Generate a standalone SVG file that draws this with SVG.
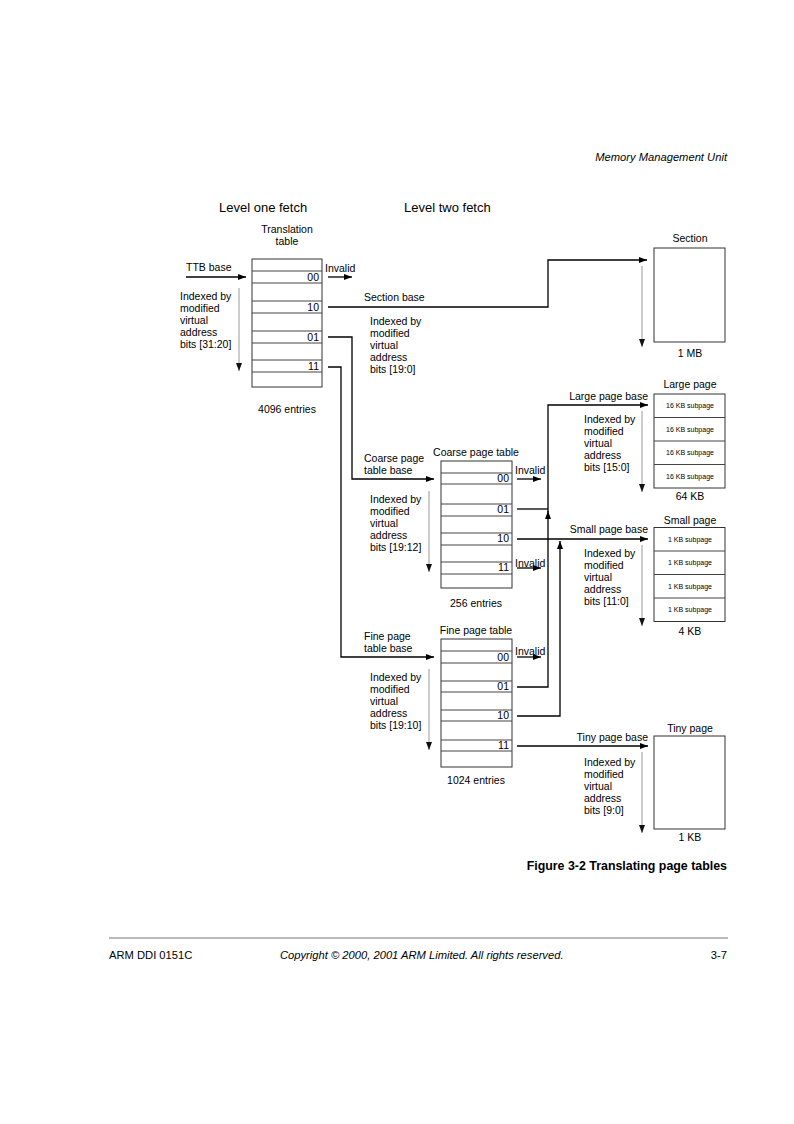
<svg xmlns="http://www.w3.org/2000/svg" width="794" height="1124" viewBox="0 0 794 1124">
<defs>
<marker id="ah" viewBox="0 0 8 6" refX="8" refY="3" markerWidth="8" markerHeight="6" markerUnits="userSpaceOnUse" orient="auto"><path d="M0,0 L8,3 L0,6 Z" fill="#000"/></marker>
<marker id="ahg" viewBox="0 0 8 6" refX="8" refY="3" markerWidth="8" markerHeight="6" markerUnits="userSpaceOnUse" orient="auto"><path d="M0,0 L8,3 L0,6 Z" fill="#111"/></marker>
</defs>
<style>
text{font-family:"Liberation Sans",Arial,sans-serif;fill:#000}
.t{font-size:10.5px}
.f{font-size:11.2px}
.h{font-size:13px}
.s{font-size:7px}
.c{text-anchor:middle}
.r{text-anchor:end}
.i{font-style:italic}
.box{fill:#fff;stroke:#333;stroke-width:1}
.row{fill:none;stroke:#444;stroke-width:1}
.ln{fill:none;stroke:#000;stroke-width:1.3}
.g{fill:none;stroke:#999;stroke-width:1}
</style>
<rect width="794" height="1124" fill="#fff"/>
<text class="f i r" x="727" y="161">Memory Management Unit</text>
<text class="h" x="219" y="212">Level one fetch</text>
<text class="h" x="404" y="212">Level two fetch</text>

<g id="translation-table">
<text class="t c" x="287" y="233">Translation</text>
<text class="t c" x="287" y="245">table</text>
<rect class="box" x="252" y="259" width="70" height="128"/>
<path class="row" d="M252,271H322M252,283H322M252,301H322M252,313H322M252,331H322M252,343H322M252,360H322M252,372H322"/>
<text class="t r" x="319" y="281">00</text>
<text class="t r" x="319" y="311">10</text>
<text class="t r" x="319" y="341">01</text>
<text class="t r" x="319" y="370">11</text>
<text class="t c" x="287" y="413">4096 entries</text>
<text class="t" x="186" y="271">TTB base</text>
<text class="t" x="180" y="300">Indexed by</text>
<text class="t" x="180" y="312">modified</text>
<text class="t" x="180" y="324">virtual</text>
<text class="t" x="180" y="336">address</text>
<text class="t" x="180" y="348">bits [31:20]</text>
<text class="t" x="325" y="272">Invalid</text>
</g>

<g id="section">
<text class="t c" x="690" y="242">Section</text>
<rect class="box" x="654" y="248" width="71" height="94"/>
<text class="t c" x="690" y="357">1 MB</text>
<text class="t" x="364" y="301">Section base</text>
<text class="t" x="370" y="325">Indexed by</text>
<text class="t" x="370" y="337">modified</text>
<text class="t" x="370" y="349">virtual</text>
<text class="t" x="370" y="361">address</text>
<text class="t" x="370" y="373">bits [19:0]</text>
</g>

<g id="coarse-page-table">
<text class="t c" x="476" y="456">Coarse page table</text>
<rect class="box" x="441" y="461" width="71" height="127"/>
<path class="row" d="M441,473H512M441,484H512M441,504H512M441,516H512M441,533H512M441,545H512M441,562H512M441,574H512"/>
<text class="t r" x="509" y="482">00</text>
<text class="t r" x="509" y="513">01</text>
<text class="t r" x="509" y="542">10</text>
<text class="t r" x="509" y="571">11</text>
<text class="t c" x="476" y="607">256 entries</text>
<text class="t" x="364" y="462">Coarse page</text>
<text class="t" x="364" y="474">table base</text>
<text class="t" x="370" y="503">Indexed by</text>
<text class="t" x="370" y="515">modified</text>
<text class="t" x="370" y="527">virtual</text>
<text class="t" x="370" y="539">address</text>
<text class="t" x="370" y="551">bits [19:12]</text>
<text class="t" x="515" y="474">Invalid</text>
<text class="t" x="515" y="567">Invalid</text>
</g>

<g id="fine-page-table">
<text class="t c" x="476" y="634">Fine page table</text>
<rect class="box" x="441" y="639" width="71" height="128"/>
<path class="row" d="M441,651H512M441,663H512M441,681H512M441,692H512M441,710H512M441,721H512M441,740H512M441,751H512"/>
<text class="t r" x="509" y="661">00</text>
<text class="t r" x="509" y="690">01</text>
<text class="t r" x="509" y="719">10</text>
<text class="t r" x="509" y="749">11</text>
<text class="t c" x="476" y="784">1024 entries</text>
<text class="t" x="364" y="640">Fine page</text>
<text class="t" x="364" y="652">table base</text>
<text class="t" x="370" y="681">Indexed by</text>
<text class="t" x="370" y="693">modified</text>
<text class="t" x="370" y="705">virtual</text>
<text class="t" x="370" y="717">address</text>
<text class="t" x="370" y="729">bits [19:10]</text>
<text class="t" x="515" y="655">Invalid</text>
</g>

<g id="large-page">
<text class="t c" x="690" y="388">Large page</text>
<rect class="box" x="654" y="394" width="71" height="94"/>
<path class="row" d="M654,417.5H725M654,441H725M654,464.5H725"/>
<text class="s c" x="690" y="408">16 KB subpage</text>
<text class="s c" x="690" y="431.5">16 KB subpage</text>
<text class="s c" x="690" y="455">16 KB subpage</text>
<text class="s c" x="690" y="478.5">16 KB subpage</text>
<text class="t c" x="690" y="500">64 KB</text>
<text class="t r" x="648" y="400">Large page base</text>
<text class="t" x="584" y="423">Indexed by</text>
<text class="t" x="584" y="435">modified</text>
<text class="t" x="584" y="447">virtual</text>
<text class="t" x="584" y="459">address</text>
<text class="t" x="584" y="471">bits [15:0]</text>
</g>

<g id="small-page">
<text class="t c" x="690" y="524">Small page</text>
<rect class="box" x="654" y="527.5" width="71" height="94"/>
<path class="row" d="M654,551H725M654,574.5H725M654,598H725"/>
<text class="s c" x="690" y="541.5">1 KB subpage</text>
<text class="s c" x="690" y="565">1 KB subpage</text>
<text class="s c" x="690" y="588.5">1 KB subpage</text>
<text class="s c" x="690" y="612">1 KB subpage</text>
<text class="t c" x="690" y="635">4 KB</text>
<text class="t r" x="648" y="533">Small page base</text>
<text class="t" x="584" y="557">Indexed by</text>
<text class="t" x="584" y="569">modified</text>
<text class="t" x="584" y="581">virtual</text>
<text class="t" x="584" y="593">address</text>
<text class="t" x="584" y="605">bits [11:0]</text>
</g>

<g id="tiny-page">
<text class="t c" x="690" y="732">Tiny page</text>
<rect class="box" x="654" y="736" width="71" height="93"/>
<text class="t c" x="690" y="841">1 KB</text>
<text class="t r" x="648" y="741">Tiny page base</text>
<text class="t" x="584" y="766">Indexed by</text>
<text class="t" x="584" y="778">modified</text>
<text class="t" x="584" y="790">virtual</text>
<text class="t" x="584" y="802">address</text>
<text class="t" x="584" y="814">bits [9:0]</text>
</g>

<g id="connectors">
<path class="ln" d="M186,277H246" marker-end="url(#ah)"/>
<path class="ln" d="M328,277H352" marker-end="url(#ah)"/>
<path class="ln" d="M328,307H548V260H647" marker-end="url(#ah)"/>
<path class="ln" d="M328,337H352V479H434" marker-end="url(#ah)"/>
<path class="ln" d="M328,367H341V657H434" marker-end="url(#ah)"/>
<path class="ln" d="M517,479H541" marker-end="url(#ah)"/>
<path class="ln" d="M517,568H541" marker-end="url(#ah)"/>
<path class="ln" d="M517,657H541" marker-end="url(#ah)"/>
<path class="ln" d="M517,509H548"/>
<path class="ln" d="M517,687H548V511" marker-end="url(#ah)"/>
<path class="ln" d="M548,512V405H648" marker-end="url(#ah)"/>
<path class="ln" d="M517,539H648" marker-end="url(#ah)"/>
<path class="ln" d="M517,716H560V541" marker-end="url(#ah)"/>
<path class="ln" d="M517,746H648" marker-end="url(#ah)"/>
<path class="g" d="M239,288V371" marker-end="url(#ahg)"/>
<path class="g" d="M642,266V347" marker-end="url(#ahg)"/>
<path class="g" d="M429,491V572" marker-end="url(#ahg)"/>
<path class="g" d="M429,669V750" marker-end="url(#ahg)"/>
<path class="g" d="M642,411V492" marker-end="url(#ahg)"/>
<path class="g" d="M642,545V626" marker-end="url(#ahg)"/>
<path class="g" d="M642,752V833" marker-end="url(#ahg)"/>
</g>

<text x="727" y="870" style="font-size:12.4px;font-weight:bold" class="r">Figure 3-2 Translating page tables</text>
<line x1="109" y1="938" x2="728" y2="938" stroke="#777" stroke-width="1"/>
<text class="f" x="109" y="959">ARM DDI 0151C</text>
<text class="f i" x="280" y="959">Copyright © 2000, 2001 ARM Limited. All rights reserved.</text>
<text class="f r" x="727" y="959">3-7</text>
</svg>
